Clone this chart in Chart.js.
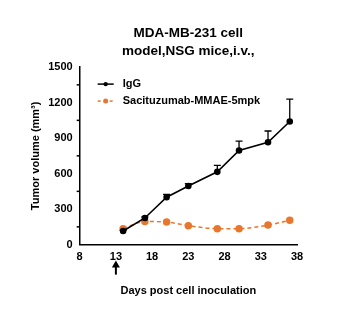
<!DOCTYPE html>
<html>
<head>
<meta charset="utf-8">
<script src="https://cdn.jsdelivr.net/npm/chart.js@4"></script>
<style>
  html, body { margin: 0; padding: 0; background: #fff; }
  #wrap { width: 350px; height: 322px; }
</style>
</head>
<body>
<div id="wrap"><canvas id="myChart" width="350" height="322"></canvas></div>
<script>
// data
const days = [14, 17, 20, 23, 27, 30, 34, 37];
const iggMean = [115, 225, 400, 495, 615, 795, 865, 1040];
const iggErr = [5, 10, 25, 20, 55, 80, 95, 190];
const sacMean = [135, 195, 190, 160, 135, 135, 165, 205];
const xTicks = [8, 13, 18, 23, 28, 33, 38];
const yTicks = [0, 300, 600, 900, 1200, 1500];
const yMinor = [150, 450, 750, 1050, 1350];
const doseDay = 13;

const seriesNames = ['IgG', 'Sacituzumab-MMAE-5mpk'];
const orange = '#E8772E';
const font = 'Liberation Sans, Arial, sans-serif';

const toPts = (xs, ys) => xs.map((x, i) => ({ x: x, y: ys[i] }));

// upward error bars, minor ticks, dosing arrow and inset legend
const extras = {
  id: 'extras',
  afterDatasetsDraw(chart) {
    const { ctx, scales: { x, y } } = chart;
    ctx.save();
    ctx.strokeStyle = '#000';
    ctx.lineWidth = 1.3;
    days.forEach((d, i) => {
      const px = x.getPixelForValue(d);
      const y0 = y.getPixelForValue(iggMean[i]);
      const y1 = y.getPixelForValue(iggMean[i] + iggErr[i]);
      ctx.beginPath();
      ctx.moveTo(px, y0); ctx.lineTo(px, y1);
      ctx.moveTo(px - 3.5, y1); ctx.lineTo(px + 3.5, y1);
      ctx.stroke();
    });
    ctx.restore();
  },
  afterDraw(chart) {
    const { ctx, scales: { x, y }, chartArea } = chart;
    ctx.save();
    // minor y ticks
    ctx.strokeStyle = '#000';
    ctx.lineWidth = 1.5;
    yMinor.forEach(v => {
      const py = y.getPixelForValue(v);
      ctx.beginPath();
      ctx.moveTo(chartArea.left - 3, py); ctx.lineTo(chartArea.left, py);
      ctx.stroke();
    });
    // arrow at dosing day
    const ax = x.getPixelForValue(doseDay);
    const top = chartArea.bottom + 16;
    ctx.lineWidth = 2;
    ctx.beginPath();
    ctx.moveTo(ax, top + 14); ctx.lineTo(ax, top + 5);
    ctx.stroke();
    ctx.fillStyle = '#000';
    ctx.beginPath();
    ctx.moveTo(ax, top); ctx.lineTo(ax - 4, top + 7); ctx.lineTo(ax + 4, top + 7);
    ctx.closePath(); ctx.fill();
    // legend
    const lx = chartArea.left + 18;
    const rows = [chartArea.top + 17, chartArea.top + 34];
    ctx.font = 'bold 11px ' + font;
    ctx.textBaseline = 'middle';
    // IgG
    ctx.strokeStyle = '#000'; ctx.lineWidth = 1.5; ctx.setLineDash([]);
    ctx.beginPath(); ctx.moveTo(lx, rows[0]); ctx.lineTo(lx + 16, rows[0]); ctx.stroke();
    ctx.beginPath(); ctx.arc(lx + 8, rows[0], 2.2, 0, Math.PI * 2); ctx.fill();
    ctx.fillText(seriesNames[0], lx + 25, rows[0]);
    // Sacituzumab
    ctx.strokeStyle = orange; ctx.fillStyle = orange; ctx.setLineDash([3, 3]);
    ctx.beginPath(); ctx.moveTo(lx, rows[1]); ctx.lineTo(lx + 16, rows[1]); ctx.stroke();
    ctx.setLineDash([]);
    ctx.beginPath(); ctx.arc(lx + 8, rows[1], 2.5, 0, Math.PI * 2); ctx.fill();
    ctx.fillStyle = '#000';
    ctx.fillText(seriesNames[1], lx + 25, rows[1]);
    ctx.restore();
  }
};

const ctx = document.getElementById('myChart');
const chart = new Chart(ctx, {
  type: 'line',
  data: {
    datasets: [{
      label: seriesNames[0],
      data: toPts(days, iggMean),
      borderColor: '#000',
      backgroundColor: '#000',
      borderWidth: 1.6,
      pointRadius: 2.5,
      tension: 0
    }, {
      label: seriesNames[1],
      data: toPts(days, sacMean),
      borderColor: orange,
      backgroundColor: orange,
      borderWidth: 1.5,
      borderDash: [4, 3],
      pointRadius: 3,
      cubicInterpolationMode: 'monotone'
    }]
  },
  options: {
    responsive: false,
    animation: false,
    layout: { padding: { left: 25, right: 53, top: 8, bottom: 20 } },
    plugins: {
      legend: { display: false },
      tooltip: { enabled: false },
      title: {
        display: true,
        text: ['MDA-MB-231 cell', 'model,NSG mice,i.v.,'],
        color: '#000',
        fullSize: false,
        font: { family: font, size: 13.5, weight: 'bold', lineHeight: 1.3 },
        padding: { top: 17, bottom: 7 }
      }
    },
    scales: {
      x: {
        type: 'linear',
        min: 8, max: 38,
        afterBuildTicks: axis => { axis.ticks = xTicks.map(v => ({ value: v })); },
        grid: { display: false, drawTicks: true, tickLength: 4, tickColor: '#000' },
        border: { color: '#000', width: 1.5 },
        ticks: { color: '#000', font: { family: font, size: 11, weight: 'bold' }, padding: 2 },
        title: {
          display: true,
          text: 'Days post cell inoculation',
          color: '#000',
          font: { family: font, size: 11, weight: 'bold' },
          padding: { top: 19 }
        }
      },
      y: {
        min: 0, max: 1500,
        afterBuildTicks: axis => { axis.ticks = yTicks.map(v => ({ value: v })); },
        grid: { display: false, drawTicks: true, tickLength: 5, tickColor: '#000' },
        border: { color: '#000', width: 1.5 },
        ticks: {
          color: '#000',
          font: { family: font, size: 11, weight: 'bold' },
          padding: 2,
          callback: v => String(v)
        },
        title: {
          display: true,
          text: 'Tumor volume (mm³)',
          color: '#000',
          font: { family: font, size: 11, weight: 'bold' },
          padding: { bottom: 4 }
        }
      }
    }
  },
  plugins: [extras]
});
</script>
</body>
</html>
